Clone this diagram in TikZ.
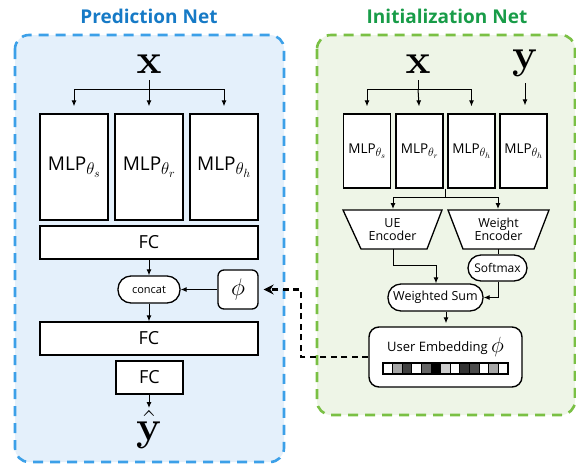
\documentclass[tikz,border=0pt]{standalone}
\usepackage{fix-cm}
\usepackage[no-math]{fontspec}
\setmainfont{Open Sans}
\usetikzlibrary{arrows.meta,calc}
\newcommand\mlpth[3]{MLP\raisebox{#3}{\fontsize{#1}{#1}\selectfont$\theta_{#2}$}}
\definecolor{bluetitle}{RGB}{22,122,198}
\definecolor{blueborder}{RGB}{60,160,232}
\definecolor{bluefill}{RGB}{228,240,251}
\definecolor{greentitle}{RGB}{24,156,72}
\definecolor{greenborder}{RGB}{122,192,68}
\definecolor{greenfill}{RGB}{238,245,231}
\begin{document}
\begin{tikzpicture}[x=1pt,y=-1pt,
  panel/.style={line width=2.6pt,dash pattern=on 10pt off 7pt,rounded corners=14pt},
  title/.style={font=\fontsize{19}{22}\selectfont\bfseries},
  boxL/.style={draw,line width=1.4pt,fill=white,inner sep=0pt,minimum width=68pt,minimum height=106pt,font=\fontsize{19}{22}\selectfont},
  boxR/.style={draw,line width=1.3pt,fill=white,inner sep=0pt,minimum width=47pt,minimum height=74pt,font=\fontsize{13.5}{16}\selectfont},
  fcbox/.style={draw,line width=1.3pt,fill=white,inner sep=0pt,minimum height=33pt,font=\fontsize{18}{20}\selectfont},
  pill/.style={draw,line width=1.3pt,fill=white,inner sep=0pt,rounded corners=13pt},
  big/.style={inner sep=0pt,font=\fontsize{42}{44}\selectfont},
  arr/.style={-{Latex[length=6pt,width=5pt]},line width=1pt},
  ln/.style={line width=1pt},
  trap/.style={line width=1.3pt,fill=white},
  lbl/.style={inner sep=0pt,align=center,font=\fontsize{12.5}{13}\selectfont},
  dasharr/.style={line width=2.6pt,dash pattern=on 6pt off 4.5pt,-{Stealth[length=10pt,width=10pt]}}
]
\useasboundingbox (0,0) rectangle (576,464);
% panels
\draw[panel,draw=blueborder,fill=bluefill] (15,35) rectangle (284,462);
\draw[panel,draw=greenborder,fill=greenfill] (317,35) rectangle (575,415);
\node[title,text=bluetitle] (tP) at (149,16) {Prediction Net};
\node[title,text=greentitle] (tI) at (447,16) {Initialization Net};

% ---------- Prediction net ----------
\node[big,anchor=base] (xL) at (149,73) {$\mathbf{x}$};
\coordinate (xLb) at (149,80);
\coordinate (bL) at (149,89);
\node[boxL] (m1) at (74,167) {\mlpth{17}{s}{-4pt}};
\node[boxL] (m2) at (149,167) {\mlpth{17}{r}{-4pt}};
\node[boxL] (m3) at (224,167) {\mlpth{17}{h}{-4pt}};
\draw[ln] (xLb) -- (bL);
\draw[arr,shorten >=7pt] (bL) -| (m1.north);
\draw[arr,shorten >=7pt] (bL) -- (m2.north);
\draw[arr,shorten >=7pt] (bL) -| (m3.north);
\node[fcbox,minimum width=218pt] (fc1) at (149,242.5) {FC};
\node[pill,minimum width=62pt,minimum height=27pt,font=\fontsize{11}{12}\selectfont] (cc) at (149,289.5) {concat};
\node[draw,line width=1.3pt,fill=white,rounded corners=6pt,minimum width=40pt,minimum height=39pt,inner sep=0pt,font=\fontsize{24}{26}\selectfont] (ph) at (238,289.5) {$\phi$};
\node[fcbox,minimum width=218pt] (fc2) at (149,338.5) {FC};
\node[fcbox,minimum width=67pt] (fc3) at (149.5,377.5) {FC};
\node[big,anchor=base,text height=19pt,text depth=9pt] (yh) at (149,440) {$\hat{\mathbf{y}}$};
\coordinate (yht) at (149,408);
\draw[arr] (fc1) -- (cc);
\draw[arr] (ph) -- (cc);
\draw[arr] (cc) -- (fc2);
\draw[arr] (fc3.south -| yht) -- (yht);

% ---------- Initialization net ----------
\node[big,anchor=base] (xR) at (418,73) {$\mathbf{x}$};
\node[big,anchor=base] (yR) at (525,68) {$\mathbf{y}$};
\coordinate (xRb) at (418,80);
\coordinate (yRb) at (525,83);
\coordinate (bR) at (418,89);
\node[boxR] (r1) at (367,151) {\mlpth{12}{s}{-3pt}};
\node[boxR] (r2) at (419.5,151) {\mlpth{12}{r}{-3pt}};
\node[boxR] (r3) at (471.5,151) {\mlpth{12}{h}{-3pt}};
\node[boxR] (r4) at (523.5,151) {\mlpth{12}{h}{-3pt}};
\draw[ln] (xRb) -- (bR);
\draw[arr,shorten >=7pt] (bR) -| (r1.north);
\draw[arr,shorten >=7pt] (bR) -- (r2.north);
\draw[arr,shorten >=7pt] (bR) -| (r3.north);
\draw[arr,shorten >=8pt] (yRb) -- (r4.north -| yRb);

% encoders
\draw[trap] (343,210) -- (442,210) -- (427,249) -- (361,249) -- cycle;
\draw[trap] (448,210) -- (549,210) -- (534,249) -- (463,249) -- cycle;
\node[lbl] (ue) at (392.5,229.5) {UE\\Encoder};
\node[lbl] (we) at (498.5,229.5) {Weight\\Encoder};
\coordinate (ueT) at (393,210);
\coordinate (weT) at (498,210);
\coordinate (ueB) at (393,249);
\coordinate (weB) at (498,249);
\coordinate (bE) at (445,197);
\draw[ln] (r3.south -| bE) -- (bE);
\draw[arr,shorten >=1pt] (bE) -| (ueT);
\draw[arr,shorten >=1pt] (bE) -| (weT);

\node[pill,minimum width=59pt,minimum height=26pt,font=\fontsize{12}{13}\selectfont] (sm) at (497.5,268) {Softmax};
\node[pill,minimum width=95pt,minimum height=27pt,font=\fontsize{12.5}{13}\selectfont] (ws) at (435.5,297.5) {Weighted Sum};
\draw[ln] (weB) -- (sm.north -| weB);
\draw[arr] (ueB) |- (436,265) -- (ws.north -| 436,0);
\draw[arr] (sm.south -| 498,0) |- (ws.east);

\node[draw,line width=1.4pt,fill=white,rounded corners=10pt,minimum width=153pt,minimum height=60pt,inner sep=0pt] (emb) at (445.5,357) {};
\draw[arr,shorten >=3pt] (ws.south -| 446,0) -- (emb.north -| 446,0);
\node[inner sep=0pt,font=\fontsize{13}{14}\selectfont] (embt) at (445.5,347) {User Embedding \raisebox{-1pt}{\fontsize{22}{24}\selectfont$\phi$}};
% embedding bar
\foreach \c [count=\i from 0] in {0,35,75,0,60,100,20,0,80,70,0,35,0}{
  \pgfmathsetmacro{\xa}{383+\i*125/13}
  \pgfmathsetmacro{\xb}{383+(\i+1)*125/13}
  \fill[black!\c!white] (\xa,363) rectangle (\xb,374);
}
\foreach \i in {0,...,13}{
  \pgfmathsetmacro{\xa}{383+\i*125/13}
  \draw[line width=1pt] (\xa,363) -- (\xa,374);
}
\draw[line width=1.2pt] (383,363) rectangle (508,374);

% dashed link
\coordinate (d1) at (301,357);
\coordinate (d2) at (301,289.5);
\draw[dasharr,shorten >=5pt] (emb.west) -- (d1) -- (d2) -- (ph.east);
\end{tikzpicture}
\end{document}
